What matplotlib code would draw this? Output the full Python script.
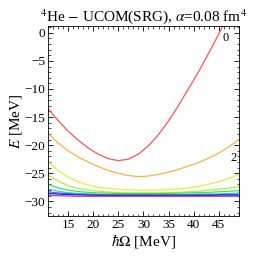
import matplotlib
matplotlib.use("Agg")
import matplotlib.pyplot as plt
import numpy as np
from matplotlib.ticker import MultipleLocator

plt.rcParams['font.family'] = ['Liberation Serif', 'DejaVu Serif']
plt.rcParams['mathtext.fontset'] = 'stix'

hw = [11, 13, 15, 17, 19, 21, 23, 25, 27, 29, 31, 33, 35, 37, 39, 41, 43, 45, 47, 49]

e_n0 = [-13.5, -15.6, -17.5, -19.1, -20.5, -21.6, -22.4, -22.75, -22.5, -21.6,
        -20.1, -18.1, -15.7, -12.9, -9.9, -6.9, -3.6, -0.2, 3.4, 7.0]
e_n2 = [-17.9, -19.6, -21.0, -22.1, -23.0, -23.8, -24.5, -25.0, -25.4, -25.6,
        -25.5, -25.2, -24.8, -24.3, -23.7, -23.1, -22.3, -21.4, -20.3, -19.0]
e_n4 = [-22.9, -24.5, -25.7, -26.5, -27.1, -27.5, -27.7, -27.85, -27.95, -28.0,
        -28.0, -28.0, -27.9, -27.8, -27.6, -27.3, -26.95, -26.5, -25.9, -25.2]
e_n6 = [-25.3, -26.4, -27.2, -27.7, -28.0, -28.2, -28.35, -28.45, -28.5, -28.5,
        -28.5, -28.5, -28.45, -28.4, -28.3, -28.2, -28.0, -27.85, -27.65, -27.4]
e_n8 = [-27.0, -27.6, -28.0, -28.25, -28.4, -28.5, -28.55, -28.6, -28.6, -28.6,
        -28.6, -28.6, -28.6, -28.55, -28.5, -28.45, -28.4, -28.3, -28.2, -28.1]
e_n10 = [-27.8, -28.2, -28.45, -28.6, -28.7, -28.75, -28.8, -28.8, -28.8, -28.8,
         -28.8, -28.8, -28.8, -28.8, -28.75, -28.7, -28.7, -28.65, -28.6, -28.5]
e_n12 = [-28.3, -28.5, -28.6, -28.7, -28.75, -28.8, -28.85, -28.85, -28.85, -28.85,
         -28.85, -28.85, -28.85, -28.85, -28.85, -28.8, -28.8, -28.8, -28.75, -28.75]
e_n14 = [-28.6, -28.7, -28.8, -28.85, -28.9, -28.95, -28.95, -28.95, -28.95, -28.95,
         -28.95, -28.95, -28.95, -28.95, -28.95, -28.95, -28.95, -28.9, -28.9, -28.9]
e_n16 = [-28.9, -29.0, -29.05, -29.1, -29.1, -29.1, -29.1, -29.1, -29.1, -29.1,
         -29.1, -29.1, -29.1, -29.1, -29.1, -29.1, -29.1, -29.1, -29.1, -29.1]

series = [e_n0, e_n2, e_n4, e_n6, e_n8, e_n10, e_n12, e_n14, e_n16]
colors = ['#ff5555', '#ffb040', '#e2ee3c', '#a8ee44', '#44dd55', '#33ddcc',
          '#3377ee', '#2222bb', '#bb33dd']

fig = plt.figure(figsize=(2.58, 2.58), dpi=100)
ax = fig.add_axes([0.186, 0.163, 0.74, 0.736])

for e, c in zip(series, colors):
    ax.plot(hw, e, color=c, lw=0.9)

ax.text(46.4, -0.9, '0', fontsize=9, ha='center', va='center')
ax.text(47.9, -22.2, '2', fontsize=9, ha='center', va='center')

ax.set_xlim(11, 49)
ax.set_ylim(-32.6, 1.2)
ax.xaxis.set_major_locator(MultipleLocator(5))
ax.xaxis.set_minor_locator(MultipleLocator(1))
ax.yaxis.set_major_locator(MultipleLocator(5))
ax.yaxis.set_minor_locator(MultipleLocator(1))
ax.tick_params(which='both', direction='in', top=True, right=True, labelsize=9.5, pad=2)
ax.tick_params(which='major', length=3.5, width=0.6)
ax.tick_params(which='minor', length=1.8, width=0.5)
for s in ax.spines.values():
    s.set_linewidth(0.6)

ax.set_xlabel(r'$\hbar\Omega$ [MeV]', fontsize=11, labelpad=1)
ax.set_ylabel(r'$E$ [MeV]', fontsize=11, labelpad=0)
ax.set_title(r'$^4$He $-$ UCOM(SRG), $\alpha$=0.08 fm$^4$', fontsize=11, pad=3)

fig.savefig('out.png', dpi=100)
